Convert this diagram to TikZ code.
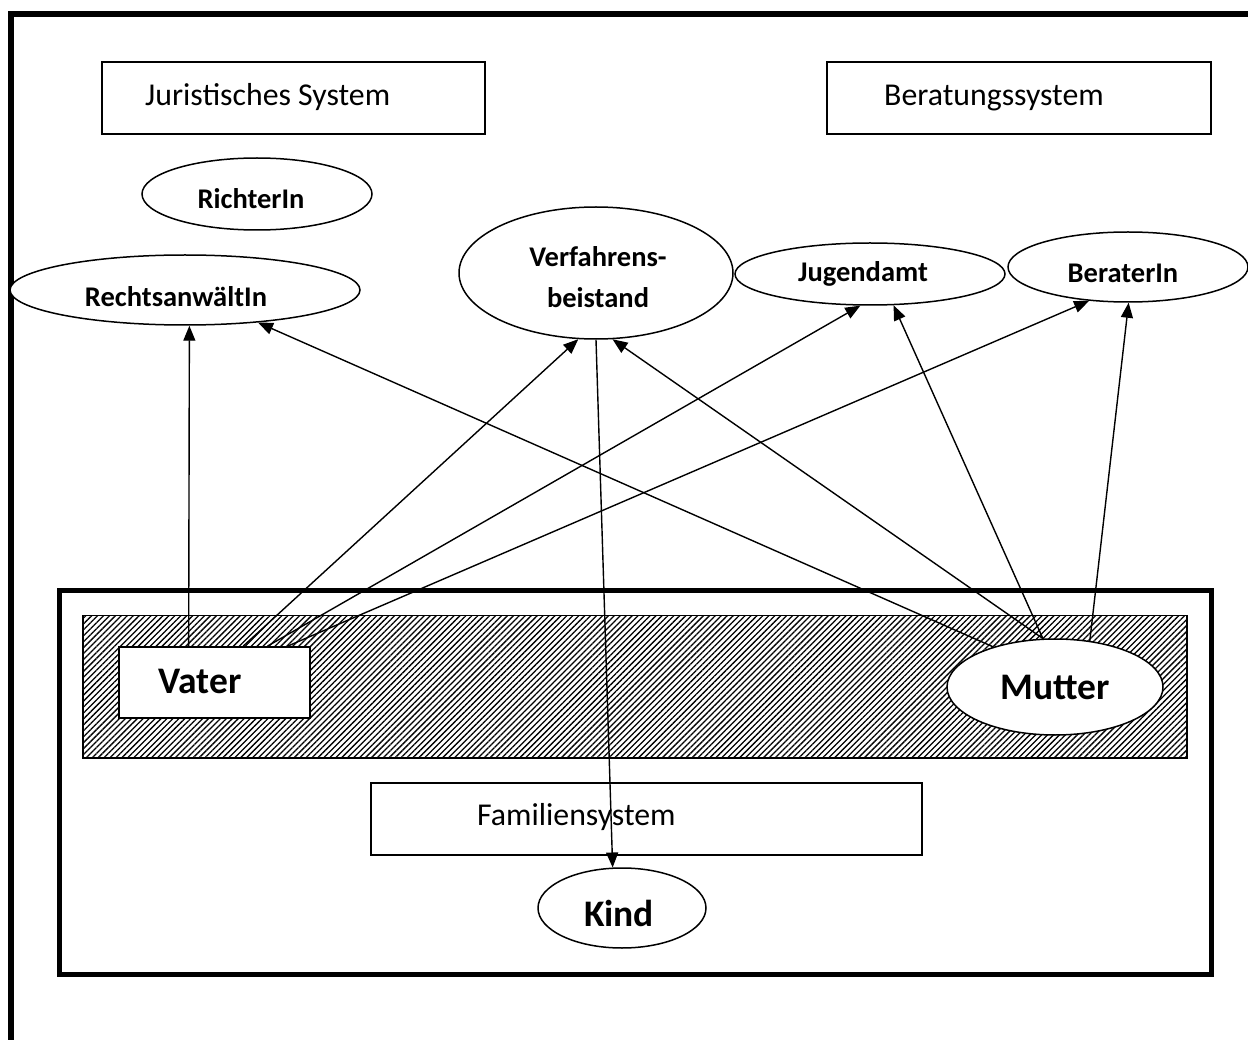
\documentclass[tikz,border=0pt]{standalone}
\usepackage{fontspec}
\setmainfont{Carlito}
\usetikzlibrary{arrows.meta,patterns.meta,calc,shapes.geometric}
\begin{document}
\begin{tikzpicture}[x=1pt,y=-1pt,
  thinbox/.style={draw,line width=1.3pt,rectangle,inner sep=0pt,fill=white},
  ell/.style={draw,line width=1.5pt,ellipse,inner sep=0pt,fill=white},
  lbl/.style={font=\fontsize{28.5}{41}\selectfont\bfseries,anchor=base,inner sep=0pt,align=center},
  big/.style={font=\fontsize{37.5}{43}\selectfont\bfseries,anchor=base,inner sep=0pt},
  sys/.style={font=\fontsize{31.8}{37}\selectfont,anchor=base west,inner sep=0pt},
  arr/.style={-{Triangle[length=15pt,width=12pt]},line width=1.4pt},
  ]
\useasboundingbox (0,0) rectangle (1248,1040);
\fill[white] (0,0) rectangle (1248,1040);
% outer frame
\draw[line width=6pt] (11,1046) -- (11,14.5) -- (1254,14.5);
% family frame
\draw[line width=5pt] (59,590.5) rectangle (1211,974.5);
% hatched band
\draw[line width=1.5pt,pattern={Lines[angle=45,distance=4.2pt,line width=1.3pt]}] (83,615.5) rectangle (1187,758);

% system boxes
\node[thinbox,minimum width=383pt,minimum height=72pt] (jur) at (293.5,98) {};
\node[sys] (jurT) at (145,106) {Juristisches System};
\node[thinbox,minimum width=384pt,minimum height=72pt] (ber) at (1019,98) {};
\node[sys] (berT) at (884,106) {Beratungssystem};
\node[thinbox,minimum width=551pt,minimum height=72pt] (fam) at (646.5,819) {};
\node[sys] (famT) at (477,825) {Familiensystem};

% ellipses
\node[ell,minimum width=230pt,minimum height=72pt] (richter) at (257,194) {};
\node[lbl] (richterT) at (251,209) {RichterIn};
\node[ell,minimum width=350pt,minimum height=70pt] (rechts) at (185,290) {};
\node[lbl] (rechtsT) at (176,307) {RechtsanwältIn};
\node[ell,minimum width=274pt,minimum height=132pt] (verf) at (596,273) {};
\node[lbl] (verfT) at (598,308) {Verfahrens-\\beistand};
\node[ell,minimum width=270pt,minimum height=62pt] (jugend) at (870,274) {};
\node[lbl] (jugendT) at (863,282) {Jugendamt};
\node[ell,minimum width=240pt,minimum height=70pt] (berater) at (1128,267) {};
\node[lbl] (beraterT) at (1123,283) {BeraterIn};

% family members
\node[thinbox,line width=1.8pt,minimum width=191pt,minimum height=71pt] (vater) at (214.5,682.5) {};
\node[big] (vaterT) at (200,693) {Vater};
\node[ell,minimum width=216pt,minimum height=96pt] (mutter) at (1055,687) {};
\node[big] (mutterT) at (1055,699) {Mutter};
\node[ell,minimum width=168pt,minimum height=80pt] (kind) at (622,908) {};
\node[big] (kindT) at (619,926) {Kind};

% connectors
\draw[arr] ($(vater.north west)!0.366!(vater.north east)$) -- (rechts.-83.5);
\draw[arr] ($(vater.north west)!0.649!(vater.north east)$) -- (verf.-105);
\draw[arr] ($(vater.north west)!0.775!(vater.north east)$) -- (jugend.-107);
\draw[arr] ($(vater.north west)!0.880!(vater.north east)$) -- (berater.-139);
\draw[arr] (mutter.147.6) -- (rechts.-24);
\draw[arr] (mutter.104) -- (verf.-76);
\draw[arr] (mutter.104) -- (jugend.-53);
\draw[arr] (mutter.53) -- (berater.-89);
\draw[arr] (verf.south) -- (kind.103);
\end{tikzpicture}
\end{document}
